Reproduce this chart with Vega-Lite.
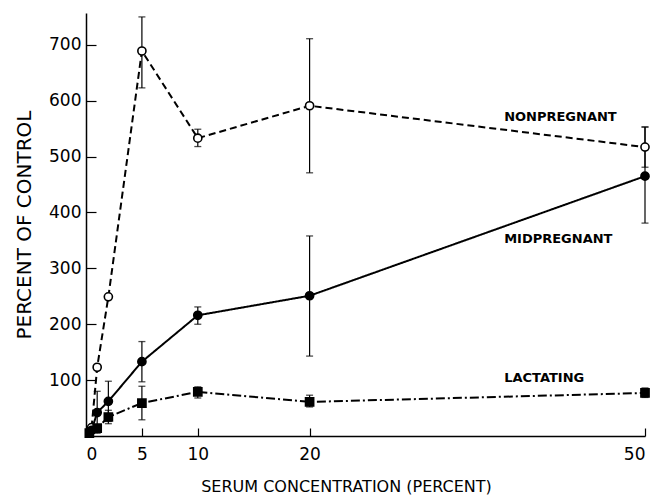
{
  "$schema": "https://vega.github.io/schema/vega-lite/v6.json",
  "width": 559,
  "height": 423,
  "autosize": {"type": "none"},
  "padding": {"left": 86, "top": 13, "right": 11, "bottom": 60},
  "background": "white",
  "config": {
    "view": {"stroke": null},
    "font": "DejaVu Sans",
    "axis": {
      "grid": false,
      "domainColor": "black",
      "domainWidth": 1.5,
      "tickColor": "black",
      "tickWidth": 1.2,
      "labelColor": "black",
      "titleColor": "black",
      "labelFont": "DejaVu Sans",
      "titleFont": "DejaVu Sans",
      "labelFontSize": 17,
      "titleFontWeight": "normal"
    }
  },
  "datasets": {
    "points": [
      {"series": "Nonpregnant", "conc": 0.5, "pct": 15},
      {"series": "Nonpregnant", "conc": 1, "pct": 123},
      {"series": "Nonpregnant", "conc": 2, "pct": 249},
      {"series": "Nonpregnant", "conc": 5, "pct": 689, "lo": 623, "hi": 750},
      {"series": "Nonpregnant", "conc": 10, "pct": 533, "lo": 518, "hi": 549},
      {"series": "Nonpregnant", "conc": 20, "pct": 591, "lo": 471, "hi": 711},
      {"series": "Nonpregnant", "conc": 50, "pct": 517, "lo": 481, "hi": 553},
      {"series": "Midpregnant", "conc": 0.5, "pct": 10},
      {"series": "Midpregnant", "conc": 1, "pct": 42, "lo": 5, "hi": 80},
      {"series": "Midpregnant", "conc": 2, "pct": 62, "lo": 26, "hi": 98},
      {"series": "Midpregnant", "conc": 5, "pct": 133, "lo": 97, "hi": 169},
      {"series": "Midpregnant", "conc": 10, "pct": 216, "lo": 200, "hi": 231},
      {"series": "Midpregnant", "conc": 20, "pct": 251, "lo": 143, "hi": 358},
      {"series": "Midpregnant", "conc": 50, "pct": 465, "lo": 381, "hi": 553},
      {"series": "Lactating", "conc": 0.3, "pct": 5},
      {"series": "Lactating", "conc": 1, "pct": 14},
      {"series": "Lactating", "conc": 2, "pct": 34, "lo": 22, "hi": 46},
      {"series": "Lactating", "conc": 5, "pct": 59, "lo": 29, "hi": 89},
      {"series": "Lactating", "conc": 10, "pct": 79, "lo": 68, "hi": 88},
      {"series": "Lactating", "conc": 20, "pct": 61, "lo": 52, "hi": 73},
      {"series": "Lactating", "conc": 50, "pct": 77, "lo": 69, "hi": 86}
    ],
    "labels": [
      {"label": "NONPREGNANT", "conc": 37.4, "pct": 571},
      {"label": "MIDPREGNANT", "conc": 37.4, "pct": 353},
      {"label": "LACTATING", "conc": 37.4, "pct": 104}
    ]
  },
  "layer": [
    {
      "data": {"name": "points"},
      "mark": {"type": "line", "color": "black", "strokeWidth": 2},
      "encoding": {
        "x": {
          "field": "conc", "type": "quantitative",
          "scale": {"domain": [0, 50], "nice": false},
          "axis": {
            "values": [0, 5, 10, 20, 50],
            "tickSize": -8,
            "labelPadding": 18,
            "title": "SERUM CONCENTRATION (PERCENT)",
            "titleFontSize": 16,
            "titlePadding": 16,
            "titleX": 260,
            "titleAlign": "center"
          }
        },
        "y": {
          "field": "pct", "type": "quantitative",
          "scale": {"domain": [0, 757], "nice": false},
          "axis": {
            "values": [100, 200, 300, 400, 500, 600, 700],
            "tickSize": -10,
            "labelPadding": 15,
            "title": "PERCENT OF CONTROL",
            "titleFontSize": 20,
            "titlePadding": 14
          }
        },
        "detail": {"field": "series"},
        "strokeDash": {
          "field": "series", "type": "nominal",
          "scale": {"domain": ["Nonpregnant", "Midpregnant", "Lactating"], "range": [[7, 4], [1, 0], [9, 3, 2, 3]]},
          "legend": null
        }
      }
    },
    {
      "data": {"name": "points"},
      "transform": [{"filter": "isValid(datum.lo)"}],
      "mark": {"type": "rule", "color": "black", "strokeWidth": 1.2},
      "encoding": {
        "x": {"field": "conc", "type": "quantitative"},
        "y": {"field": "lo", "type": "quantitative"},
        "y2": {"field": "hi"}
      }
    },
    {
      "data": {"name": "points"},
      "transform": [{"filter": "isValid(datum.lo)"}],
      "mark": {"type": "tick", "color": "black", "orient": "horizontal", "size": 7, "thickness": 1.3},
      "encoding": {
        "x": {"field": "conc", "type": "quantitative"},
        "y": {"field": "lo", "type": "quantitative"}
      }
    },
    {
      "data": {"name": "points"},
      "transform": [{"filter": "isValid(datum.hi)"}],
      "mark": {"type": "tick", "color": "black", "orient": "horizontal", "size": 7, "thickness": 1.3},
      "encoding": {
        "x": {"field": "conc", "type": "quantitative"},
        "y": {"field": "hi", "type": "quantitative"}
      }
    },
    {
      "data": {"name": "points"},
      "mark": {"type": "point", "opacity": 1, "strokeWidth": 1.6},
      "encoding": {
        "x": {"field": "conc", "type": "quantitative"},
        "y": {"field": "pct", "type": "quantitative"},
        "shape": {
          "field": "series", "type": "nominal",
          "scale": {"domain": ["Nonpregnant", "Midpregnant", "Lactating"], "range": ["circle", "circle", "square"]},
          "legend": null
        },
        "fill": {
          "field": "series", "type": "nominal",
          "scale": {"domain": ["Nonpregnant", "Midpregnant", "Lactating"], "range": ["white", "black", "black"]},
          "legend": null
        },
        "stroke": {"value": "black"},
        "size": {"value": 66}
      }
    },
    {
      "data": {"name": "labels"},
      "mark": {"type": "text", "align": "left", "baseline": "middle", "font": "DejaVu Sans", "fontSize": 13, "fontWeight": 600, "color": "black"},
      "encoding": {
        "x": {"field": "conc", "type": "quantitative"},
        "y": {"field": "pct", "type": "quantitative"},
        "text": {"field": "label"}
      }
    }
  ]
}
